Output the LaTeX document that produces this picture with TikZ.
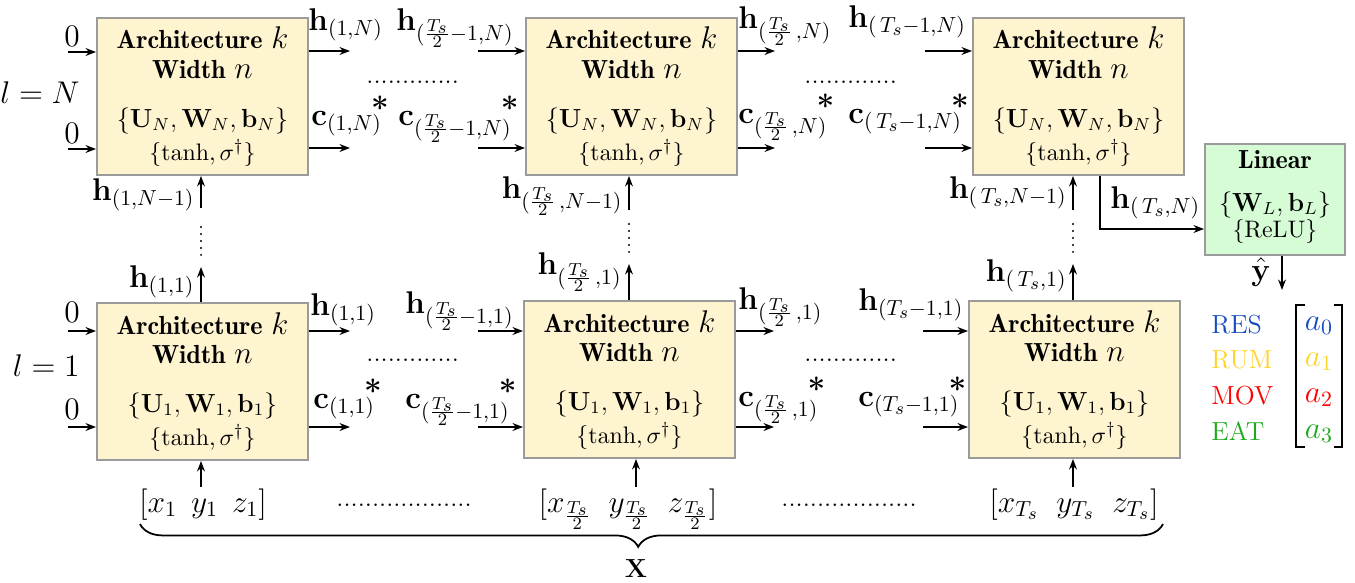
\documentclass[tikz,border=0pt]{standalone}
\usepackage{amsmath,amssymb}
\usetikzlibrary{arrows.meta,calc,decorations.pathreplacing}
\DeclareMathSizes{14.4}{14.4}{10}{8}
\definecolor{boxfill}{RGB}{255,244,208}
\definecolor{boxline}{RGB}{155,155,155}
\definecolor{linfill}{RGB}{214,252,214}
\definecolor{cres}{RGB}{20,75,190}
\definecolor{crum}{RGB}{255,212,40}
\definecolor{cmov}{RGB}{255,0,0}
\definecolor{ceat}{RGB}{30,170,30}
\newcommand\cstar{\kern-5pt\raisebox{2.5pt}{\textbf{*}}}
\newcommand\hfr{\frac{T_s}{2}}
\newcommand\archtxt[2]{%
 \node[anchor=base,inner sep=0,font=\large\fontseries{b}\selectfont] (#1-a) at ($(#1.north)+(0,32)$) {Architecture {\Large$k$}};
 \node[anchor=base,inner sep=0,font=\large\fontseries{b}\selectfont] (#1-w) at ($(#1.north)+(0,61)$) {Width {\Large$n$}};
 \node[anchor=base,inner sep=0,font=\large] (#1-p) at ($(#1.north)+(0,110)$) {$\{\mathbf{U}_{#2},\mathbf{W}_{#2},\mathbf{b}_{#2}\}$};
 \node[anchor=base,inner sep=0,font=\fontsize{11}{13}\selectfont] (#1-f) at ($(#1.north)+(0,143)$) {$\{\tanh,\sigma^{\dagger}\}$};
}
\begin{document}
\begin{tikzpicture}[x=0.4587pt,y=-0.4587pt,
 arch/.style={draw=boxline,fill=boxfill,line width=0.9pt,minimum width=211*0.4587pt,minimum height=157*0.4587pt,anchor=north west,inner sep=0},
 linbox/.style={draw=boxline,fill=linfill,line width=0.9pt,minimum width=140*0.4587pt,minimum height=111*0.4587pt,anchor=north west,inner sep=0},
 arr/.style={line width=0.75pt,-{Stealth[length=4.8pt,width=3.6pt]}},
 lbl/.style={inner sep=0,font=\Large},
 dotsrow/.style={inner sep=0,font=\large,anchor=base west},
 vdot/.style={line width=1pt,line cap=round,dash pattern=on 0pt off 3.2pt},
 brk/.style={line width=0.9pt},
]
\useasboundingbox (0,0) rectangle (1355,583);

% boxes
\node[arch] (tA) at (96,17) {};
\node[arch] (tB) at (525,17) {};
\node[arch] (tC) at (972,17) {};
\node[arch] (bA) at (96,302) {};
\node[arch] (bB) at (523,300) {};
\node[arch] (bC) at (968,300) {};
\node[linbox] (L) at (1204,143) {};

\archtxt{tA}{N}
\archtxt{tB}{N}
\archtxt{tC}{N}
\archtxt{bA}{1}
\archtxt{bB}{1}
\archtxt{bC}{1}

\node[anchor=base,inner sep=0,font=\large\fontseries{b}\selectfont] (L-a) at ($(L.north)+(0,25)$) {Linear};
\node[anchor=base,inner sep=0,font=\large] (L-p) at ($(L.north)+(0,68)$) {$\{\mathbf{W}_{L},\mathbf{b}_{L}\}$};
\node[anchor=base,inner sep=0,font=\fontsize{11}{13}\selectfont] (L-f) at ($(L.north)+(0,94)$) {$\{\mathrm{ReLU}\}$};

% layer labels
\node[lbl,anchor=base east] (lN) at (80,103) {$l=N$};
\node[lbl,anchor=base east] (l1) at (80,376) {$l=1$};

% zero inputs
\node[inner sep=0,font=\Large,anchor=base] (z1) at (72,47) {$0$};
\node[inner sep=0,font=\Large,anchor=base] (z2) at (72,143) {$0$};
\node[inner sep=0,font=\Large,anchor=base] (z3) at (72,322) {$0$};
\node[inner sep=0,font=\Large,anchor=base] (z4) at (72,419) {$0$};
\coordinate (cz1) at (68,52);
\coordinate (cz2) at (68,149);
\coordinate (cz3) at (68,331);
\coordinate (cz4) at (68,427);
\draw[arr] (cz1) -- (tA.west |- cz1);
\draw[arr] (cz2) -- (tA.west |- cz2);
\draw[arr] (cz3) -- (bA.west |- cz3);
\draw[arr] (cz4) -- (bA.west |- cz4);

% top row horizontal arrows
\coordinate (oA1) at (350,51);
\coordinate (oA2) at (350,148);
\coordinate (iB1) at (478,51);
\coordinate (iB2) at (478,148);
\coordinate (oB1) at (775,51);
\coordinate (oB2) at (775,148);
\coordinate (iC1) at (925,51);
\coordinate (iC2) at (925,148);
\draw[arr] (tA.east |- oA1) -- (oA1);
\draw[arr] (tA.east |- oA2) -- (oA2);
\draw[arr] (iB1) -- (tB.west |- iB1);
\draw[arr] (iB2) -- (tB.west |- iB2);
\draw[arr] (tB.east |- oB1) -- (oB1);
\draw[arr] (tB.east |- oB2) -- (oB2);
\draw[arr] (iC1) -- (tC.west |- iC1);
\draw[arr] (iC2) -- (tC.west |- iC2);

% bottom row horizontal arrows
\coordinate (poA1) at (350,331);
\coordinate (poA2) at (350,427);
\coordinate (piB1) at (478,331);
\coordinate (piB2) at (478,427);
\coordinate (poB1) at (774,331);
\coordinate (poB2) at (774,427);
\coordinate (piC1) at (923,331);
\coordinate (piC2) at (923,427);
\draw[arr] (bA.east |- poA1) -- (poA1);
\draw[arr] (bA.east |- poA2) -- (poA2);
\draw[arr] (piB1) -- (bB.west |- piB1);
\draw[arr] (piB2) -- (bB.west |- piB2);
\draw[arr] (bB.east |- poB1) -- (poB1);
\draw[arr] (bB.east |- poB2) -- (poB2);
\draw[arr] (piC1) -- (bC.west |- piC1);
\draw[arr] (piC2) -- (bC.west |- piC2);

% top row labels
\node[lbl,anchor=base west] (hA1) at (308,30) {$\mathbf{h}_{(1,N)}$};
\node[lbl,anchor=base west] (hB0) at (396,30) {$\mathbf{h}_{(\hfr-1,N)}$};
\node[lbl,anchor=base west] (hB1) at (738,28) {$\mathbf{h}_{(\hfr\,,N)}$};
\node[lbl,anchor=base west] (hC0) at (848,27) {$\mathbf{h}_{(\,T_s-1,N)}$};
\node[lbl,anchor=base west] (cA1) at (311,125) {$\mathbf{c}_{(1,N)}$\cstar};
\node[lbl,anchor=base west] (cB0) at (398,125) {$\mathbf{c}_{(\hfr-1,N)}$\cstar};
\node[lbl,anchor=base west] (cB1) at (738,123) {$\mathbf{c}_{(\hfr\,,N)}$\cstar};
\node[lbl,anchor=base west] (cC0) at (848,123) {$\mathbf{c}_{(\,T_s-1,N)}$\cstar};
\node[dotsrow] (dT1) at (366,83) {.............};
\node[dotsrow] (dT2) at (804,83) {.............};

% bottom row labels
\node[lbl,anchor=base west] (phA1) at (310,315) {$\mathbf{h}_{(1,1)}$};
\node[lbl,anchor=base west] (phB0) at (405,313) {$\mathbf{h}_{(\hfr-1,1)}$};
\node[lbl,anchor=base west] (phB1) at (738,309) {$\mathbf{h}_{(\hfr\,,1)}$};
\node[lbl,anchor=base west] (phC0) at (858,310) {$\mathbf{h}_{(T_s-1,1)}$};
\node[lbl,anchor=base west] (pcA1) at (313,408) {$\mathbf{c}_{(1,1)}$\cstar};
\node[lbl,anchor=base west] (pcB0) at (405,408) {$\mathbf{c}_{(\hfr-1,1)}$\cstar};
\node[lbl,anchor=base west] (pcB1) at (738,406) {$\mathbf{c}_{(\hfr\,,1)}$\cstar};
\node[lbl,anchor=base west] (pcC0) at (858,406) {$\mathbf{c}_{(T_s-1,1)}$\cstar};
\node[dotsrow] (dB1) at (366,361) {.............};
\node[dotsrow] (dB2) at (804,361) {.............};

% vertical connections
\coordinate (vA1) at (201,208);
\coordinate (vA2) at (201,267);
\coordinate (vB1) at (629,210);
\coordinate (vB2) at (629,264);
\coordinate (vC1) at (1073,210);
\coordinate (vC2) at (1073,264);
\draw[arr] (vA1) -- (vA1 |- tA.south);
\draw[arr] (vA2 |- bA.north) -- (vA2);
\draw[arr] (vB1) -- (vB1 |- tB.south);
\draw[arr] (vB2 |- bB.north) -- (vB2);
\draw[arr] (vC1) -- (vC1 |- tC.south);
\draw[arr] (vC2 |- bC.north) -- (vC2);
\draw[vdot] (201,227) -- (201,257);
\draw[vdot] (629,224) -- (629,256);
\draw[vdot] (1073,224) -- (1073,256);

\node[lbl,anchor=base east] (vhA1) at (195,200) {$\mathbf{h}_{(1,N-1)}$};
\node[lbl,anchor=base east] (vhA2) at (195,287) {$\mathbf{h}_{(1,1)}$};
\node[lbl,anchor=base east] (vhB1) at (623,198) {$\mathbf{h}_{(\hfr\,,N-1)}$};
\node[lbl,anchor=base east] (vhB2) at (622,274) {$\mathbf{h}_{(\hfr\,,1)}$};
\node[lbl,anchor=base east] (vhC1) at (1067,198) {$\mathbf{h}_{(\,T_s,N-1)}$};
\node[lbl,anchor=base east] (vhC2) at (1067,281) {$\mathbf{h}_{(\,T_s,1)}$};

% inputs
\node[lbl,anchor=base] (xA) at (203,512) {$[x_1\;\,y_1\;\,z_1]$};
\node[lbl,anchor=base] (xB) at (628,512) {$[x_{\hfr}\;\;y_{\hfr}\;\;z_{\hfr}]$};
\node[lbl,anchor=base] (xC) at (1074,512) {$[x_{T_s}\;\;y_{T_s}\;\;z_{T_s}]$};
\node[dotsrow] (dX1) at (336,506) {...................};
\node[dotsrow] (dX2) at (781,506) {...................};
\coordinate (uA) at (201,487);
\coordinate (uB) at (636,487);
\coordinate (uC) at (1073,487);
\draw[arr] (uA) -- (uA |- bA.south);
\draw[arr] (uB) -- (uB |- bB.south);
\draw[arr] (uC) -- (uC |- bC.south);

% brace
\coordinate (brL) at (140,524);
\coordinate (brR) at (1163,524);
\draw[decorate,decoration={brace,mirror,amplitude=10.5pt,aspect=0.487},line width=0.8pt] (brL) -- (brR);
\node[inner sep=0,font=\large,anchor=base] (X) at (636,577) {$\mathbf{X}$};

% to linear
\coordinate (lk) at (1100,229);
\draw[arr] (lk |- tC.south) |- (L.west |- lk);
\node[lbl,anchor=base west] (hTN) at (1110,208) {$\mathbf{h}_{(\,T_s,N)}$};
\coordinate (yo) at (1282,290);
\draw[arr] (yo |- L.south) -- (yo);
\node[inner sep=0,font=\Large,anchor=base east] (yh) at (1271,280) {$\hat{\mathbf{y}}$};

% legend
\node[inner sep=0,font=\large,anchor=base west,text=cres] (gR) at (1211,333) {RES};
\node[inner sep=0,font=\large,anchor=base west,text=crum] (gU) at (1211,368) {RUM};
\node[inner sep=0,font=\large,anchor=base west,text=cmov] (gM) at (1211,404) {MOV};
\node[inner sep=0,font=\large,anchor=base west,text=ceat] (gE) at (1211,440) {EAT};
\node[lbl,anchor=base,text=cres] (a0) at (1319,330) {$a_0$};
\node[lbl,anchor=base,text=crum] (a1) at (1319,366) {$a_1$};
\node[lbl,anchor=base,text=cmov] (a2) at (1319,402) {$a_2$};
\node[lbl,anchor=base,text=ceat] (a3) at (1319,438) {$a_3$};
\draw[brk] (1305,305) -- (1296,305) -- (1296,447) -- (1305,447);
\draw[brk] (1334,305) -- (1342,305) -- (1342,447) -- (1334,447);
\end{tikzpicture}
\end{document}
